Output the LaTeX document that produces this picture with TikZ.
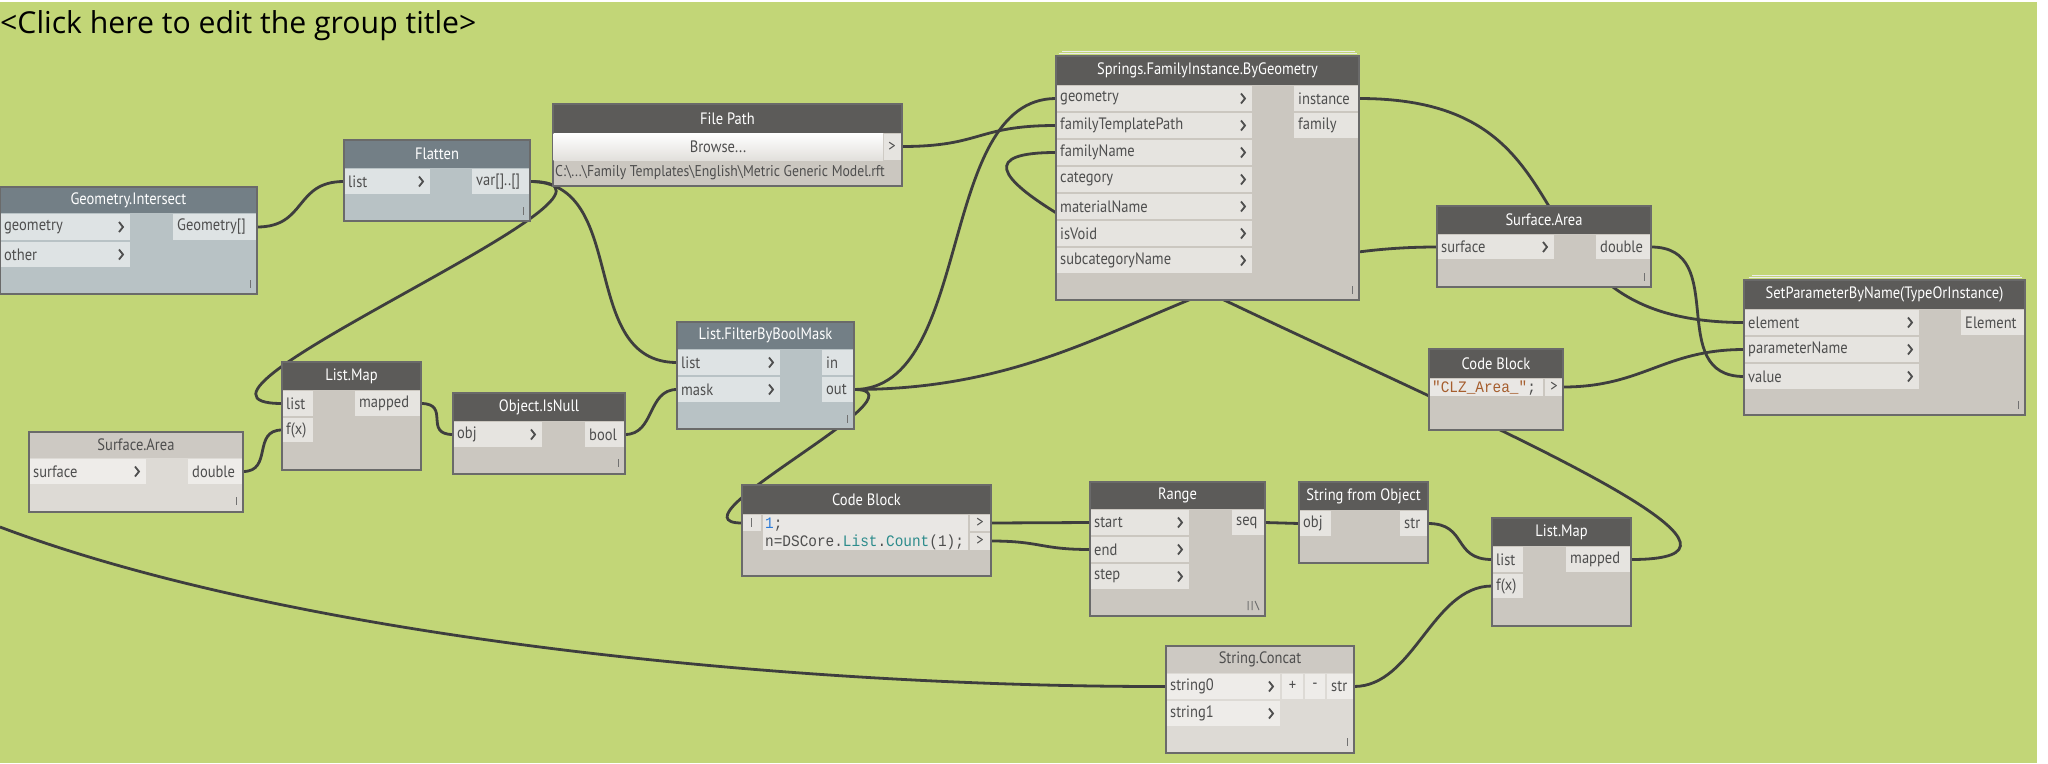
\documentclass[tikz,border=0pt]{standalone}
\usepackage{fontspec}
\setmainfont{PT Sans}[FakeStretch=0.88]
\newfontfamily\titlefont{Open Sans}
\setmonofont{Liberation Mono}[FakeStretch=0.9]

\pgfdeclarelayer{background}
\pgfdeclarelayer{wires}
\pgfsetlayers{background,wires,main}

\definecolor{groupgreen}{HTML}{C2D677}
\definecolor{dheadc}{HTML}{5C5B59}
\definecolor{dbodyc}{HTML}{CBC7C0}
\definecolor{drowc}{HTML}{E6E4E0}
\definecolor{bheadc}{HTML}{737F86}
\definecolor{bbodyc}{HTML}{B8C2C5}
\definecolor{browc}{HTML}{DEE3E4}
\definecolor{lheadc}{HTML}{CDC9C3}
\definecolor{lbodyc}{HTML}{DDDAD5}
\definecolor{lrowc}{HTML}{EEECE9}
\definecolor{wirec}{HTML}{3E3E3E}
\definecolor{edgec}{HTML}{6A6A6A}
\definecolor{portc}{HTML}{4E4E4E}
\definecolor{codebg}{HTML}{E9E7E4}
\definecolor{codeblue}{HTML}{2B7BD8}
\definecolor{codeteal}{HTML}{2D8C8C}
\definecolor{codebrown}{HTML}{A65E2E}
\definecolor{browsec}{HTML}{E2E0DC}

\newcommand\dynhead{\fontsize{16.5}{18}\selectfont}
\newcommand\dynport{\fontsize{16.5}{18}\selectfont}
\newcommand\dynpath{\fontsize{15.6}{18}\selectfont}
\newcommand\dyncode{\fontsize{16}{18}\selectfont\ttfamily}

% node frame: name, x0, y0, x1, y1, header bottom, title, scheme (d/b/l)
\newcommand\dynnode[8]{%
  \fill[#8body] ({#2},{#3}) rectangle ({#4},{#5});
  \fill[#8head] ({#2},{#3}) rectangle ({#4},{#6});
  \draw[nodeedge] ({#2},{#3}) rectangle ({#4},{#5});
  \node[#8title] (#1) at ({(#2+#4)/2},{(#3+#6)/2}) {#7};
}
% input port: coordinate, x0, x1, ytop, ybot, label, row style
\newcommand\inplain[7]{%
  \fill[#7] ({#2+0.6},{#4+1}) rectangle ({#3},{#5-1});
  \node[portlabel, anchor=west] (#1-lbl) at ({#2+4},{(#4+#5)/2}) {#6};
  \coordinate (#1) at ({#2},{(#4+#5)/2});
}
\newcommand\inport[7]{%
  \inplain{#1}{#2}{#3}{#4}{#5}{#6}{#7}
  \draw[chevron] ({#3-11},{(#4+#5)/2-5}) -- ({#3-7},{(#4+#5)/2}) -- ({#3-11},{(#4+#5)/2+5});
}
% output port: coordinate, x0, x1, ytop, ybot, label, row style
\newcommand\outport[7]{%
  \fill[#7] ({#2},{#4+1}) rectangle ({#3-0.6},{#5-1});
  \node[portlabel, anchor=west] (#1-lbl) at ({#2+4},{(#4+#5)/2}) {#6};
  \coordinate (#1) at ({#3},{(#4+#5)/2});
}
\newcommand\lace[2]{\draw[lacing] ({#1},{#2-4}) -- ({#1},{#2+4});}

\begin{document}
\begin{tikzpicture}[x=1pt, y=-1pt,
    wire/.style={draw=wirec, line width=2.8pt},
    nodeedge/.style={draw=edgec, line width=1.2pt},
    dbody/.style={fill=dbodyc}, dhead/.style={fill=dheadc},
    bbody/.style={fill=bbodyc}, bhead/.style={fill=bheadc},
    lbody/.style={fill=lbodyc}, lhead/.style={fill=lheadc},
    drow/.style={fill=drowc}, brow/.style={fill=browc}, lrow/.style={fill=lrowc},
    dtitle/.style={text=white, font=\dynhead, inner sep=0pt},
    btitle/.style={text=white, font=\dynhead, inner sep=0pt},
    ltitle/.style={text=portc, font=\dynhead, inner sep=0pt},
    portlabel/.style={text=portc, font=\dynport, inner sep=0pt},
    chevron/.style={draw=portc, line width=1.8pt},
    lacing/.style={draw=portc!80, line width=1pt},
    codetext/.style={font=\dyncode, text=portc, inner sep=0pt, anchor=base west},
    stack/.style={draw=white!85!gray, line width=0.8pt},
  ]

  % group background
  \begin{pgfonlayer}{background}
    \fill[white] (0,0) rectangle (2048,763);
    \fill[groupgreen] (0,2) rectangle (2037,763);
  \end{pgfonlayer}
  \useasboundingbox (0,0) rectangle (2048,763);

  \node[font=\titlefont\fontsize{30.2}{34}\selectfont, inner sep=0pt, anchor=base west]
    (title) at (0,33) {<Click here to edit the group title>};

  % Geometry.Intersect
  \dynnode{gi}{0}{187}{257}{294}{213}{Geometry.Intersect}{b}
  \inport{gi-geometry}{0}{130}{213}{241}{geometry}{brow}
  \inport{gi-other}{0}{130}{241}{268}{other}{brow}
  \outport{gi-out}{173}{257}{213}{241}{Geometry[]}{brow}
  \lace{250}{284}

  % Flatten
  \dynnode{fl}{344}{140}{530}{221}{168}{Flatten}{b}
  \inport{fl-list}{344}{430}{168}{195}{list}{brow}
  \outport{fl-out}{472}{530}{168}{195}{var[]..[]}{brow}
  \lace{523}{211}

  % File Path
  \dynnode{fp}{553}{104}{902}{186}{133}{File Path}{d}
  \shade[top color=white, bottom color=browsec] (553.6,133) rectangle (883,160);
  \node[portlabel] (fp-browse) at (718,146.5) {Browse...};
  \fill[drow] (884,134) rectangle (901.4,160);
  \node[portlabel] (fp-arrow) at (892,146.5) {>};
  \coordinate (fp-out) at (902,146.5);
  \node[portlabel, font=\dynpath, anchor=west] (fp-path) at (555,173)
    {C:\textbackslash...\textbackslash Family Templates\textbackslash English\textbackslash Metric Generic Model.rft};

  % Springs.FamilyInstance.ByGeometry
  \draw[stack] (1062,51) -- (1355,51);
  \draw[stack] (1059,53.5) -- (1357,53.5);
  \dynnode{sp}{1056}{56}{1359}{300}{85}{Springs.FamilyInstance.ByGeometry}{d}
  \inport{sp-geometry}{1056}{1252}{85}{112}{geometry}{drow}
  \inport{sp-template}{1056}{1252}{112}{139}{familyTemplatePath}{drow}
  \inport{sp-name}{1056}{1252}{139}{166}{familyName}{drow}
  \inport{sp-category}{1056}{1252}{166}{193}{category}{drow}
  \inport{sp-material}{1056}{1252}{193}{220}{materialName}{drow}
  \inport{sp-void}{1056}{1252}{220}{247}{isVoid}{drow}
  \inport{sp-subcat}{1056}{1252}{247}{274}{subcategoryName}{drow}
  \outport{sp-instance}{1294}{1359}{85}{112}{instance}{drow}
  \outport{sp-family}{1294}{1359}{112}{139}{family}{drow}
  \lace{1352}{290}

  % List.FilterByBoolMask
  \dynnode{fb}{677}{322}{854}{429}{349}{List.FilterByBoolMask}{b}
  \inport{fb-list}{677}{780}{349}{376}{list}{brow}
  \inport{fb-mask}{677}{780}{376}{403}{mask}{brow}
  \outport{fb-in}{822}{854}{349}{376}{in}{brow}
  \outport{fb-out}{822}{854}{376}{403}{out}{brow}
  \lace{847}{419}

  % List.Map
  \dynnode{lma}{282}{362}{421}{470}{390}{List.Map}{d}
  \inplain{lma-list}{282}{313}{390}{417}{list}{drow}
  \inplain{lma-fx}{282}{313}{417}{443}{f(x)}{drow}
  \outport{lma-out}{355}{421}{390}{417}{mapped}{drow}

  % Object.IsNull
  \dynnode{isn}{453}{393}{625}{474}{421}{Object.IsNull}{d}
  \inport{isn-obj}{453}{542}{421}{448}{obj}{drow}
  \outport{isn-out}{585}{625}{421}{448}{bool}{drow}
  \lace{618}{463}

  % Surface.Area (left)
  \dynnode{saa}{29}{432}{243}{512}{458}{Surface.Area}{l}
  \inport{saa-surface}{29}{146}{458}{485}{surface}{lrow}
  \outport{saa-out}{188}{243}{458}{485}{double}{lrow}
  \lace{236}{501}

  % Code Block (count)
  \dynnode{cba}{742}{485}{991}{576}{514}{Code Block}{d}
  \fill[drow] (742.6,515) rectangle (761,531);
  \draw[lacing] (751,518) -- (751,527);
  \coordinate (cba-in) at (742,523);
  \fill[codebg] (763,515) rectangle (968,550);
  \node[codetext] (cba-line1) at (765,528) {\textcolor{codeblue}{1};};
  \node[codetext] (cba-line2) at (765,546)
    {n=DSCore.\textcolor{codeteal}{List}.\textcolor{codeteal}{Count}(1);};
  \fill[drow] (970,515) rectangle (990.4,531);
  \fill[drow] (970,532.5) rectangle (990.4,550);
  \node[portlabel] (cba-arrow1) at (980,523) {>};
  \node[portlabel] (cba-arrow2) at (980,541) {>};
  \coordinate (cba-out1) at (991,523);
  \coordinate (cba-out2) at (991,541);

  % Range
  \dynnode{rg}{1090}{482}{1265}{616}{509}{Range}{d}
  \inport{rg-start}{1090}{1189}{509}{536}{start}{drow}
  \inport{rg-end}{1090}{1189}{536}{563}{end}{drow}
  \inport{rg-step}{1090}{1189}{563}{590}{step}{drow}
  \outport{rg-out}{1232}{1265}{509}{536}{seq}{drow}
  \draw[lacing] (1248,601) -- (1248,610) (1252,601) -- (1252,610) (1255,601) -- (1259,610);

  % String from Object
  \dynnode{sfo}{1299}{482}{1428}{563}{510}{String from Object}{d}
  \inplain{sfo-obj}{1299}{1331}{510}{537}{obj}{drow}
  \outport{sfo-out}{1400}{1428}{510}{537}{str}{drow}

  % List.Map (right)
  \dynnode{lmb}{1492}{518}{1631}{626}{546}{List.Map}{d}
  \inplain{lmb-list}{1492}{1523}{546}{573}{list}{drow}
  \inplain{lmb-fx}{1492}{1523}{573}{599}{f(x)}{drow}
  \outport{lmb-out}{1566}{1631}{546}{573}{mapped}{drow}

  % String.Concat
  \dynnode{sc}{1166}{646}{1354}{753}{673}{String.Concat}{l}
  \inport{sc-s0}{1166}{1280}{673}{700}{string0}{lrow}
  \inport{sc-s1}{1166}{1280}{700}{727}{string1}{lrow}
  \fill[lrow] (1282,674) rectangle (1303,699);
  \fill[lrow] (1305,674) rectangle (1325,699);
  \node[portlabel] (sc-plus) at (1292.5,686) {+};
  \node[portlabel] (sc-minus) at (1315,686) {-};
  \outport{sc-out}{1327}{1354}{673}{700}{str}{lrow}
  \lace{1347}{742}

  % Surface.Area (right)
  \dynnode{sab}{1437}{206}{1651}{287}{234}{Surface.Area}{d}
  \inport{sab-surface}{1437}{1554}{234}{260}{surface}{drow}
  \outport{sab-out}{1596}{1651}{234}{260}{double}{drow}
  \lace{1644}{277}

  % Code Block (name)
  \dynnode{cbb}{1429}{349}{1563}{430}{378}{Code Block}{d}
  \fill[codebg] (1429.6,379) rectangle (1543,396);
  \node[codetext] (cbb-line) at (1432,392) {\textcolor{codebrown}{"CLZ\_Area\_"};};
  \fill[drow] (1545,379) rectangle (1562.4,396);
  \node[portlabel] (cbb-arrow) at (1554,387) {>};
  \coordinate (cbb-out) at (1563,387);

  % SetParameterByName(TypeOrInstance)
  \draw[stack] (1752,275) -- (2020,275);
  \draw[stack] (1749,277.5) -- (2022,277.5);
  \dynnode{spn}{1744}{280}{2025}{415}{309}{SetParameterByName(TypeOrInstance)}{d}
  \inport{spn-element}{1744}{1919}{309}{336}{element}{drow}
  \inport{spn-param}{1744}{1919}{336}{363}{parameterName}{drow}
  \inport{spn-value}{1744}{1919}{363}{390}{value}{drow}
  \outport{spn-out}{1961}{2025}{309}{336}{Element}{drow}
  \lace{2018}{405}

  % wires (behind the nodes)
  \coordinate (offleft) at (0,527);
  \begin{pgfonlayer}{wires}
    \draw[wire] (gi-out) .. controls +(50,0) and +(-50,0) .. (fl-list);
    \draw[wire] (fl-out) .. controls +(100,0) and +(-100,0) .. (fb-list);
    \draw[wire] (fl-out) .. controls +(150,0) and +(-150,0) .. (lma-list);
    \draw[wire] (saa-out) .. controls +(30,0) and +(-30,0) .. (lma-fx);
    \draw[wire] (lma-out) .. controls +(30,0) and +(-30,0) .. (isn-obj);
    \draw[wire] (isn-out) .. controls +(30,0) and +(-30,0) .. (fb-mask);
    \draw[wire] (fp-out) .. controls +(80,0) and +(-80,0) .. (sp-template);
    \draw[wire] (fb-out) .. controls +(120,0) and +(-120,0) .. (sp-geometry);
    \draw[wire] (fb-out) .. controls +(80,0) and +(-80,0) .. (cba-in);
    \draw[wire] (fb-out) .. controls +(250,0) and +(-250,0) .. (sab-surface);
    \draw[wire] (sp-instance) .. controls +(250,0) and +(-250,0) .. (spn-element);
    \draw[wire] (sab-out) .. controls +(80,0) and +(-80,0) .. (spn-value);
    \draw[wire] (cbb-out) .. controls +(80,0) and +(-80,0) .. (spn-param);
    \draw[wire] (lmb-out) .. controls +(300,0) and +(-300,0) .. (sp-name);
    \draw[wire] (cba-out1) -- (rg-start);
    \draw[wire] (cba-out2) .. controls +(50,0) and +(-50,0) .. (rg-end);
    \draw[wire] (rg-out) -- (sfo-obj);
    \draw[wire] (sfo-out) .. controls +(40,0) and +(-40,0) .. (lmb-list);
    \draw[wire] (sc-out) .. controls +(60,0) and +(-60,0) .. (lmb-fx);
    \draw[wire] (offleft) .. controls (300,640) and (800,687) .. (sc-s0);
  \end{pgfonlayer}
\end{tikzpicture}
\end{document}
